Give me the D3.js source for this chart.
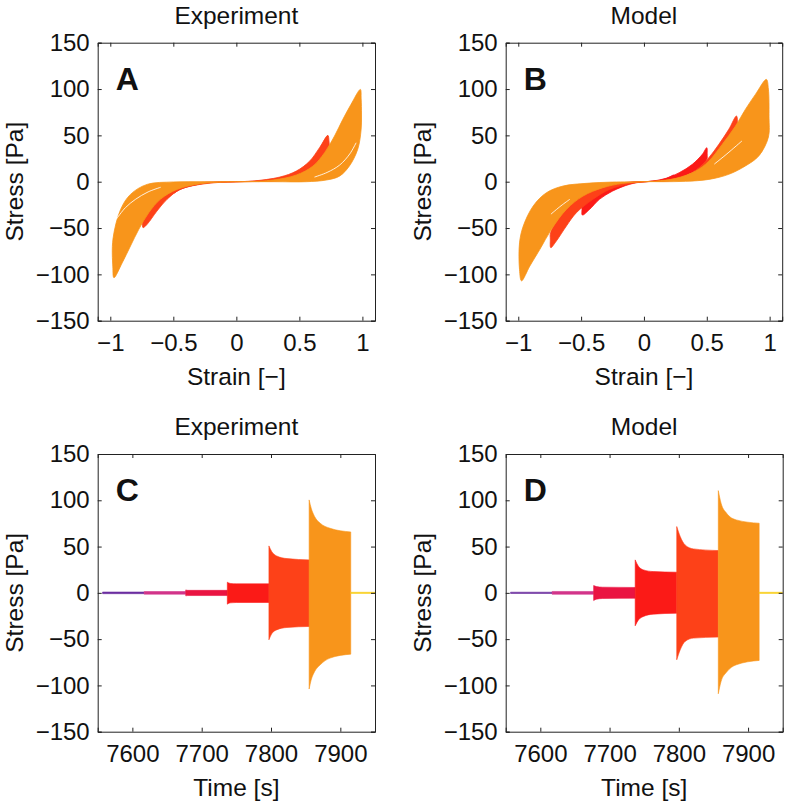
<!DOCTYPE html>
<html>
<head>
<meta charset="utf-8">
<script src="https://cdn.jsdelivr.net/npm/d3@7"></script>
<style>
  html, body { margin: 0; padding: 0; background: #fff; }
  svg { display: block; }
  text { font-family: "Liberation Sans", Arial, Helvetica, sans-serif; fill: #111; }
</style>
</head>
<body>
<svg id="chart" width="786" height="806"></svg>
<script>
// ---------------- DATA ----------------
const strainTicks = [-1, -0.5, 0, 0.5, 1];
const stressTicks = [-150, -100, -50, 0, 50, 100, 150];
const timeTicks = [7600, 7700, 7800, 7900];
const panelTitles = ["Experiment", "Model", "Experiment", "Model"];
const panelLetters = ["A", "B", "C", "D"];
// amplitude levels (purple, magenta, crimson, red, orange-red, orange, yellow)
const levelColors = ["#6b2fa0", "#d2358a", "#ea1442", "#fb1a17", "#fd4118", "#f8951b", "#f8cf1d"];

// Stress-strain loops [strain, stress]
const expLoopRed = [[0,0],[0.2,1],[0.35,4],[0.45,8.5],[0.5,12],[0.505,8],[0.45,4],[0.3,1],[0,0],
  [-0.2,-1],[-0.35,-4.2],[-0.45,-8.6],[-0.5,-12.2],[-0.505,-8],[-0.45,-4],[-0.3,-1]];
const expLoopOrangeRed = [[0,0],[0.13,0.7],[0.345,5],[0.476,11.5],[0.58,22],[0.66,36.7],[0.726,50],[0.735,44],[0.735,35],
  [0.70,20],[0.61,9.7],[0.48,3.2],[0.24,0.4],[0,0],[-0.13,-0.7],[-0.287,-2.9],[-0.445,-8.3],[-0.55,-19],[-0.63,-31.7],
  [-0.708,-46],[-0.74,-49.6],[-0.745,-44],[-0.74,-35],[-0.72,-28],[-0.63,-17],[-0.52,-8.3],[-0.366,-3.2],[-0.18,-0.7]];
const expLoopOrange = [[0,0],[0.08,0],[0.292,1.8],[0.476,7.2],[0.608,16.9],[0.7,31.3],[0.779,49.3],[0.845,67.3],[0.91,83.5],
  [0.984,99.6],[0.99,90],[0.993,72],[0.99,56.5],[0.963,35],[0.897,17],[0.818,6],[0.713,1.8],[0.555,0],[0.3,0],[0,0],
  [-0.1,-0.4],[-0.287,-2.2],[-0.471,-8.3],[-0.603,-19],[-0.695,-33.5],[-0.774,-51.4],[-0.84,-69.4],[-0.905,-87.4],
  [-0.971,-103.6],[-0.98,-92],[-0.979,-62],[-0.918,-29.9],[-0.84,-13.7],[-0.708,-2.9],[-0.5,-0.3],[-0.25,0]];
// gaps between successive cycles (white streaks inside the bands)
const expGaps = [
  [[0.62,5],[0.72,10],[0.82,18],[0.9,30],[0.95,42]],
  [[-0.95,-40],[-0.88,-28],[-0.8,-19],[-0.7,-11],[-0.6,-6]]
];

const modelLoopCrimson = [[0,0],[0.1,1],[0.18,3.5],[0.24,7.2],[0.245,5],[0.2,2.5],[0.1,0.5],[0,0],
  [-0.1,-1],[-0.18,-3.5],[-0.24,-7.2],[-0.245,-5],[-0.2,-2.5],[-0.1,-0.5]];
const modelLoopRed = [[0,0],[0.07,0.7],[0.174,3.6],[0.28,9.7],[0.385,18.7],[0.464,29.5],[0.5,36.7],[0.503,30],[0.5,24],
  [0.438,15],[0.332,6.8],[0.2,1.8],[0.08,0.3],[0,0],[-0.116,-2.9],[-0.248,-10],[-0.354,-19],[-0.433,-30],[-0.49,-36],
  [-0.493,-30],[-0.49,-24.5],[-0.406,-15.5],[-0.3,-7.6],[-0.17,-2.2],[-0.06,-0.3]];
const modelLoopOrangeRed = [[0,0],[0.07,0.4],[0.2,1.8],[0.332,6],[0.438,15],[0.517,26],[0.596,40.3],[0.675,56.5],[0.736,70.9],
  [0.745,62],[0.743,53],[0.70,38.5],[0.623,24],[0.517,13.3],[0.385,5],[0.2,0.7],[0,0],[-0.116,-2.2],[-0.274,-8.3],
  [-0.406,-19],[-0.538,-33.5],[-0.617,-47.8],[-0.697,-64],[-0.741,-71.2],[-0.745,-62],[-0.743,-55],[-0.67,-37],
  [-0.59,-22.7],[-0.485,-11.9],[-0.327,-4.7],[-0.169,-1]];
const modelLoopOrange = [[0,0],[0.095,0.7],[0.253,3.6],[0.412,11.5],[0.517,22.3],[0.623,40.3],[0.728,60],[0.807,78],
  [0.887,94.2],[0.974,110.4],[0.99,100],[0.995,70],[0.99,48],[0.913,27.7],[0.807,17],[0.675,8],[0.517,2.5],[0.33,0.4],
  [0.15,0],[0,0],[-0.169,-1.8],[-0.327,-6.5],[-0.485,-15.5],[-0.617,-29.9],[-0.736,-51.4],[-0.828,-73],[-0.908,-91],
  [-0.974,-107],[-0.99,-95],[-0.99,-66],[-0.96,-47.8],[-0.88,-26],[-0.776,-11.9],[-0.644,-4.7],[-0.46,-1.8],[-0.25,-0.4]];
const modelGaps = [
  [[0.56,19],[0.66,30],[0.78,44]],
  [[-0.74,-35],[-0.66,-26],[-0.59,-19]]
];

// Time-series envelopes per block: times [s], upper and lower stress [Pa]
const expTimes = [[7557,7617],[7617,7677],[7677,7680,7737],[7737,7741,7750,7797],
  [7797,7801,7808,7823,7856],[7855,7858,7863,7871,7885,7915],[7915,7950]];
const expUpper = [[0.9,0.9],[1.4,1.4],[3.2,2.7,2.7],[11.5,10.2,9.7,9.7],
  [50.7,44.6,39.9,37,35.6],[100.4,91.4,82.3,75.2,69.8,65.8],[0.6,0.6]];
const expLower = [[-0.9,-0.9],[-1.4,-1.4],[-3.2,-2.9,-2.9],[-12.2,-10.8,-10.4,-10.4],
  [-50.7,-44.2,-40,-37.4,-36.3],[-103.9,-93.9,-84.9,-77.7,-70.5,-66.2],[-0.6,-0.6]];

const modelTimes = [[7557,7617],[7617,7677],[7677,7681,7690,7737],[7737,7742,7749,7763,7797],
  [7797,7802,7809,7821,7857],[7857,7861,7869,7883,7916],[7916,7950]];
const modelUpper = [[0.7,0.7],[1.5,1.5],[7.9,6.8,6.1,5.8],[35.6,28.4,24.8,23,22.3],
  [71.6,60.8,51.8,47.5,45.7],[110.4,96.8,86,78.8,75.2],[0.6,0.6]];
const modelLower = [[-0.7,-0.7],[-1.5,-1.5],[-8.3,-6.8,-6.1,-5.8],[-35.6,-29,-25.5,-23,-22],
  [-72.3,-61.5,-52.5,-48.9,-47.8],[-109,-95.7,-85.6,-77.7,-73],[-0.6,-0.6]];

// ---------------- DRAWING ----------------
const svg = d3.select("#chart");
const FONT_TICK = 24, FONT_LABEL = 24.5;

const panels = [
  {x0: 97.7, y0: 42.7, w: 277.3, h: 278, kind: "loop"},
  {x0: 505.7, y0: 42.7, w: 276.5, h: 278, kind: "loop"},
  {x0: 97.7, y0: 454, w: 277.3, h: 277.7, kind: "time"},
  {x0: 505.7, y0: 454, w: 277, h: 277.7, kind: "time"}
];

const fmt = d => d < 0 ? "\u2212" + Math.abs(d) : String(d);

panels.forEach((p, i) => {
  const g = svg.append("g").attr("transform", `translate(${p.x0},${p.y0})`);
  const x = p.kind === "loop"
    ? d3.scaleLinear().domain([-1.1, 1.1]).range([0, p.w])
    : d3.scaleLinear().domain([7550, 7950]).range([0, p.w]);
  const y = d3.scaleLinear().domain([-150, 150]).range([p.h, 0]);

  const clipId = "clip" + i;
  g.append("clipPath").attr("id", clipId).append("rect").attr("width", p.w).attr("height", p.h);
  const plot = g.append("g").attr("clip-path", `url(#${clipId})`);

  if (p.kind === "loop") {
    const loops = i === 0
      ? [[expLoopRed, 3], [expLoopOrangeRed, 4], [expLoopOrange, 5]]
      : [[modelLoopCrimson, 2], [modelLoopRed, 3], [modelLoopOrangeRed, 4], [modelLoopOrange, 5]];
    const line = d3.line().x(d => x(d[0])).y(d => y(d[1])).curve(d3.curveCatmullRomClosed.alpha(0.5));
    loops.forEach(([pts, c]) => {
      plot.append("path").attr("d", line(pts))
        .attr("fill", levelColors[c]).attr("stroke", levelColors[c]).attr("stroke-width", 0.8)
        .attr("stroke-linejoin", "round");
    });
    const gapLine = d3.line().x(d => x(d[0])).y(d => y(d[1])).curve(d3.curveCatmullRom.alpha(0.5));
    (i === 0 ? expGaps : modelGaps).forEach(pts => {
      plot.append("path").attr("d", gapLine(pts)).attr("fill", "none")
        .attr("stroke", "#fff").attr("stroke-width", 1).attr("stroke-opacity", 0.85);
    });
  } else {
    const T = i === 2 ? expTimes : modelTimes;
    const U = i === 2 ? expUpper : modelUpper;
    const L = i === 2 ? expLower : modelLower;
    T.forEach((ts, k) => {
      const rows = ts.map((t, j) => ({t, u: U[k][j], l: L[k][j]}));
      const area = d3.area().x(d => x(d.t)).y0(d => y(d.l)).y1(d => y(d.u)).curve(d3.curveMonotoneX);
      plot.append("path").attr("d", area(rows)).attr("fill", levelColors[k])
        .attr("stroke", levelColors[k]).attr("stroke-width", 0.6);
    });
  }

  // axes
  const xt = p.kind === "loop" ? strainTicks : timeTicks;
  const axB = d3.axisBottom(x).tickValues(xt).tickSize(-4).tickPadding(13).tickFormat(fmt);
  const axT = d3.axisTop(x).tickValues(xt).tickSize(-4).tickFormat("");
  const axL = d3.axisLeft(y).tickValues(stressTicks).tickSize(-4).tickPadding(8).tickFormat(fmt);
  const axR = d3.axisRight(y).tickValues(stressTicks).tickSize(-4).tickFormat("");
  const gb = g.append("g").attr("transform", `translate(0,${p.h})`).call(axB);
  const gt = g.append("g").call(axT);
  const gl = g.append("g").call(axL);
  const gr = g.append("g").attr("transform", `translate(${p.w},0)`).call(axR);
  [gb, gt, gl, gr].forEach(a => {
    a.select(".domain").attr("stroke", "#222").attr("stroke-width", 1);
    a.selectAll(".tick line").attr("stroke", "#222").attr("stroke-width", 1);
    a.selectAll("text").attr("font-size", FONT_TICK)
      .attr("font-family", "'Liberation Sans', Arial, Helvetica, sans-serif").attr("fill", "#111");
  });

  // panel title
  svg.append("text").attr("x", p.x0 + p.w / 2).attr("y", p.y0 - 19)
    .attr("text-anchor", "middle").attr("font-size", FONT_LABEL).text(panelTitles[i]);
  // panel letter
  svg.append("text").attr("x", p.x0 + 18).attr("y", p.y0 + 47)
    .attr("font-size", 32).attr("font-weight", "bold").text(panelLetters[i]);
  // x label
  svg.append("text").attr("x", p.x0 + x(p.kind === "loop" ? 0 : 7750)).attr("y", p.y0 + p.h + 64)
    .attr("text-anchor", "middle").attr("font-size", FONT_LABEL)
    .text(p.kind === "loop" ? "Strain [\u2212]" : "Time [s]");
  // y label
  svg.append("text").attr("transform", `translate(${p.x0 - 75},${p.y0 + p.h / 2}) rotate(-90)`)
    .attr("text-anchor", "middle").attr("font-size", FONT_LABEL).text("Stress [Pa]");
});
</script>
</body>
</html>
